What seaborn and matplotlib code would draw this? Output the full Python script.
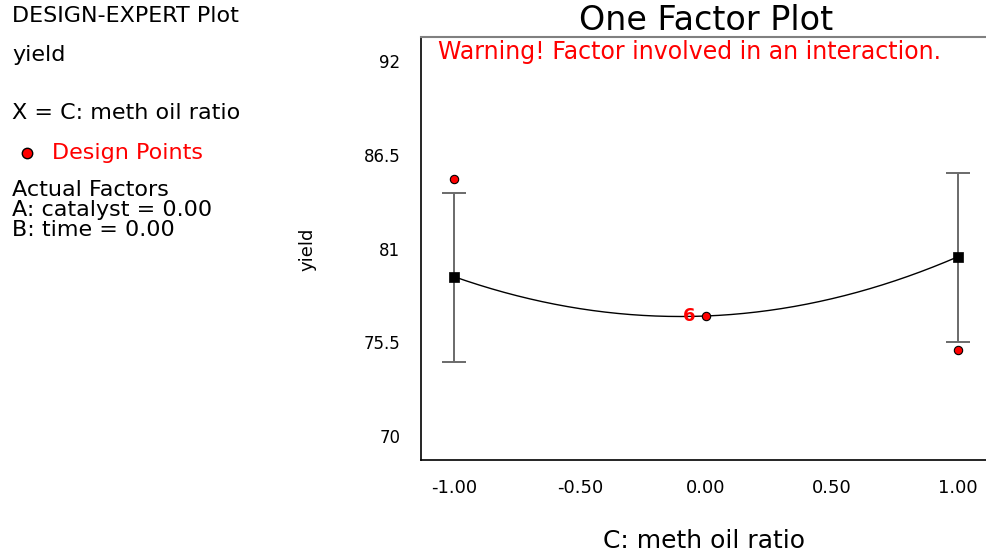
import numpy as np
import pandas as pd
import matplotlib
matplotlib.use("Agg")
import matplotlib.pyplot as plt
from matplotlib.lines import Line2D
import seaborn as sns

# ---- data -------------------------------------------------------------
factor_levels = [-1.0, 0.0, 1.0]           # C: meth oil ratio (coded)
predicted_yield = [79.36, 77.05, 80.53]    # model prediction at each level

bar_levels = [-1.0, 1.0]                   # LSD bars at the factorial levels
bar_low = [74.36, 75.51]
bar_high = [84.28, 85.45]

design_x = [-1.0, 0.0, 1.0]
design_y = [85.06, 77.07, 75.04]
design_reps = [1, 6, 1]

x_ticks = [-1.0, -0.5, 0.0, 0.5, 1.0]
x_tick_labels = ["-1.00", "-0.50", "0.00", "0.50", "1.00"]
y_ticks = [70, 75.5, 81, 86.5, 92]
y_tick_labels = ["70", "75.5", "81", "86.5", "92"]

side_lines = ["DESIGN-EXPERT Plot", "yield", "X = C: meth oil ratio"]
factor_lines = ["Actual Factors", "A: catalyst = 0.00", "B: time = 0.00"]

# ---- quadratic model curve through the predicted values ---------------
coef = np.polyfit(factor_levels, predicted_yield, 2)
grid = np.linspace(-1, 1, 201)
curve = pd.DataFrame({"ratio": grid, "yield": np.polyval(coef, grid)})
points = pd.DataFrame({"ratio": design_x, "yield": design_y, "reps": design_reps})
preds = pd.DataFrame({"ratio": bar_levels,
                      "yield": [predicted_yield[0], predicted_yield[2]]})

# ---- figure -----------------------------------------------------------
sns.set_style("white")
plt.rcParams["font.family"] = ["DejaVu Sans"]
plt.rcParams["text.color"] = "black"

W, H = 987, 554
fig = plt.figure(figsize=(W / 100, H / 100), dpi=100)

def fx(px):
    return px / W

def fy(py):
    return 1 - py / H

ax = fig.add_axes([fx(421), fy(460), fx(991) - fx(421), fy(36.7) - fy(460)])

# LSD bars
mid = [(lo + hi) / 2 for lo, hi in zip(bar_low, bar_high)]
half = [(hi - lo) / 2 for lo, hi in zip(bar_low, bar_high)]
ax.errorbar(bar_levels, mid, yerr=half, fmt="none", ecolor="#6a6a6a",
            elinewidth=1.4, capsize=8.6, capthick=1.4, zorder=1)

# prediction curve
sns.lineplot(data=curve, x="ratio", y="yield", color="black", lw=1.0,
             ax=ax, zorder=2)

# predicted means
sns.scatterplot(data=preds, x="ratio", y="yield", marker="s", color="black",
                s=50, edgecolor="black", linewidth=0.5, ax=ax, zorder=3)

# design points
sns.scatterplot(data=points, x="ratio", y="yield", marker="o", color="#ff0000",
                s=36, edgecolor="black", linewidth=0.8, ax=ax, zorder=4)
for xv, yv, n in zip(design_x, design_y, design_reps):
    if n > 1:
        ax.annotate(str(n), (xv, yv), xytext=(-12.5, 0), textcoords="offset points",
                    ha="center", va="center", color="#ff0000",
                    fontsize=13, fontweight="bold", zorder=5)

ax.set_xlim(-1.13, 1.13)
ax.set_ylim(68.61, 93.42)
ax.set_xticks(x_ticks)
ax.set_xticklabels(x_tick_labels)
ax.set_yticks(y_ticks)
ax.set_yticklabels(y_tick_labels)
ax.tick_params(axis="both", direction="out", colors="#707070", width=1.5,
               labelcolor="black")
ax.tick_params(axis="y", length=11.5, pad=3.5, labelsize=12)
ax.tick_params(axis="x", length=9, pad=5, labelsize=13)

for side in ("left", "bottom"):
    ax.spines[side].set_color("black")
    ax.spines[side].set_linewidth(1.2)
ax.spines["top"].set_color("#808080")
ax.spines["top"].set_linewidth(1.5)
ax.spines["right"].set_visible(False)

ax.set_xlabel("")
ax.set_ylabel("")
fig.text(fx(704), fy(541), "C: meth oil ratio", ha="center", va="center",
         fontsize=18)
fig.text(fx(308), fy(249), "yield", ha="center", va="center",
         rotation=90, fontsize=13)
fig.text(fx(706), fy(21), "One Factor Plot", ha="center", va="center",
         fontsize=24)
fig.text(fx(438), fy(52), "Warning! Factor involved in an interaction.",
         ha="left", va="center", color="#ff0000", fontsize=17)

# side panel
for txt, py in zip(side_lines, [16, 55, 113]):
    fig.text(fx(12), fy(py), txt, ha="left", va="center", fontsize=16)
fig.add_artist(Line2D([fx(27)], [fy(153)], transform=fig.transFigure,
                      marker="o", markersize=7.5, markerfacecolor="#ff0000",
                      markeredgecolor="black", markeredgewidth=1.0,
                      linestyle="none"))
fig.text(fx(52), fy(153), "Design Points", ha="left", va="center",
         color="#ff0000", fontsize=16)
fig.text(fx(12), fy(210), "\n".join(factor_lines), ha="left", va="center",
         fontsize=16, linespacing=0.98)

fig.savefig("out.png", dpi=100)
